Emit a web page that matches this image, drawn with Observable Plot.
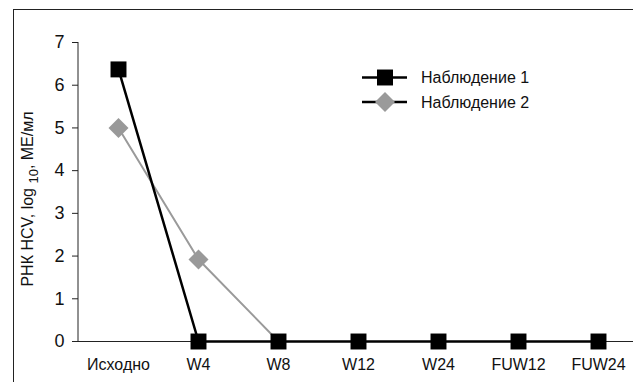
<!DOCTYPE html>
<html>
<head>
<meta charset="utf-8">
<script src="https://cdn.jsdelivr.net/npm/d3@7"></script>
<script src="https://cdn.jsdelivr.net/npm/@observablehq/plot@0.6"></script>
<style>
  html, body { margin: 0; padding: 0; background: #fff; }
  #wrap { position: relative; width: 633px; height: 382px; overflow: hidden; }
  #frame { position: absolute; left: 13px; top: 9px; width: 700px; height: 500px;
           border-left: 1.5px solid #222; border-top: 1.5px solid #222; }
  #chart { position: absolute; left: 0; top: 0; }
</style>
</head>
<body>
<div id="wrap"><div id="frame"></div><div id="chart"></div></div>
<script>
const categories = ["Исходно", "W4", "W8", "W12", "W24", "FUW12", "FUW24"];
const series1Name = "Наблюдение 1";
const series2Name = "Наблюдение 2";
const series1 = [6.37, 0, 0, 0, 0, 0, 0];
const series2 = [5.0, 1.92, 0];
const yTicks = [0, 1, 2, 3, 4, 5, 6, 7];

const data1 = series1.map((v, i) => ({cat: categories[i], v}));
const data2 = series2.map((v, i) => ({cat: categories[i], v}));

const font = "'Liberation Sans', Arial, Helvetica, sans-serif";

const chart = Plot.plot({
  width: 633,
  height: 382,
  marginLeft: 78,
  marginRight: 0,
  marginTop: 42,
  marginBottom: 41,
  style: {fontFamily: font, background: "transparent", overflow: "visible"},
  x: {type: "point", domain: categories, padding: 0.46875, align: 0.5333},
  y: {domain: [0, 7], ticks: yTicks},
  marks: [
    Plot.ruleY([0], {stroke: "#222", strokeWidth: 1}),
    Plot.axisY({ticks: yTicks, tickFormat: "d", tickSize: 6, tickPadding: 8, fontSize: 18, label: null, stroke: "#222", color: "#111"}),
    Plot.axisX({tickSize: 0, tickPadding: 17, fontSize: 16, label: null, color: "#111"}),
    Plot.line(data2, {x: "cat", y: "v", stroke: "#9a9a9a", strokeWidth: 2}),
    Plot.line(data1, {x: "cat", y: "v", stroke: "#000", strokeWidth: 2.5}),
    Plot.dot(data2, {filter: d => d.v > 0, x: "cat", y: "v", symbol: d3.symbolDiamond2, r: 9, fill: "#999999", stroke: "none"}),
    Plot.dot(data1, {x: "cat", y: "v", symbol: "square", r: 9, fill: "#000", stroke: "none"})
  ]
});

const svg = d3.select(chart);
// y axis line
svg.append("line").attr("x1", 78).attr("x2", 78).attr("y1", 42).attr("y2", 341)
  .attr("stroke", "#222").attr("stroke-width", 1);

// y axis title with subscript
const yt = svg.append("text")
  .attr("transform", "translate(33,199) rotate(-90)")
  .attr("text-anchor", "middle")
  .attr("font-family", font).attr("font-size", 16).attr("fill", "#111");
yt.append("tspan").text("РНК HCV, log ");
yt.append("tspan").attr("font-size", 13).attr("dy", 5).text("10");
yt.append("tspan").attr("dy", -5).text(", МЕ/мл");

// legend
const lg = svg.append("g").attr("font-family", font).attr("font-size", 16).attr("fill", "#111")
  .attr("text-anchor", "start");
const items = [
  {name: series1Name, color: "#000", sym: d3.symbolSquare, y: 77.5},
  {name: series2Name, color: "#9a9a9a", sym: d3.symbolDiamond2, y: 102}
];
items.forEach(it => {
  lg.append("line").attr("x1", 362).attr("x2", 407).attr("y1", it.y).attr("y2", it.y)
    .attr("stroke", "#000").attr("stroke-width", 2.5);
  lg.append("path").attr("d", d3.symbol(it.sym, Math.PI * 81)())
    .attr("transform", `translate(385,${it.y})`).attr("fill", it.color);
  lg.append("text").attr("x", 421).attr("y", it.y).attr("dy", "0.35em")
    .attr("text-anchor", "start").text(it.name);
});

document.getElementById("chart").appendChild(chart);
</script>
</body>
</html>
